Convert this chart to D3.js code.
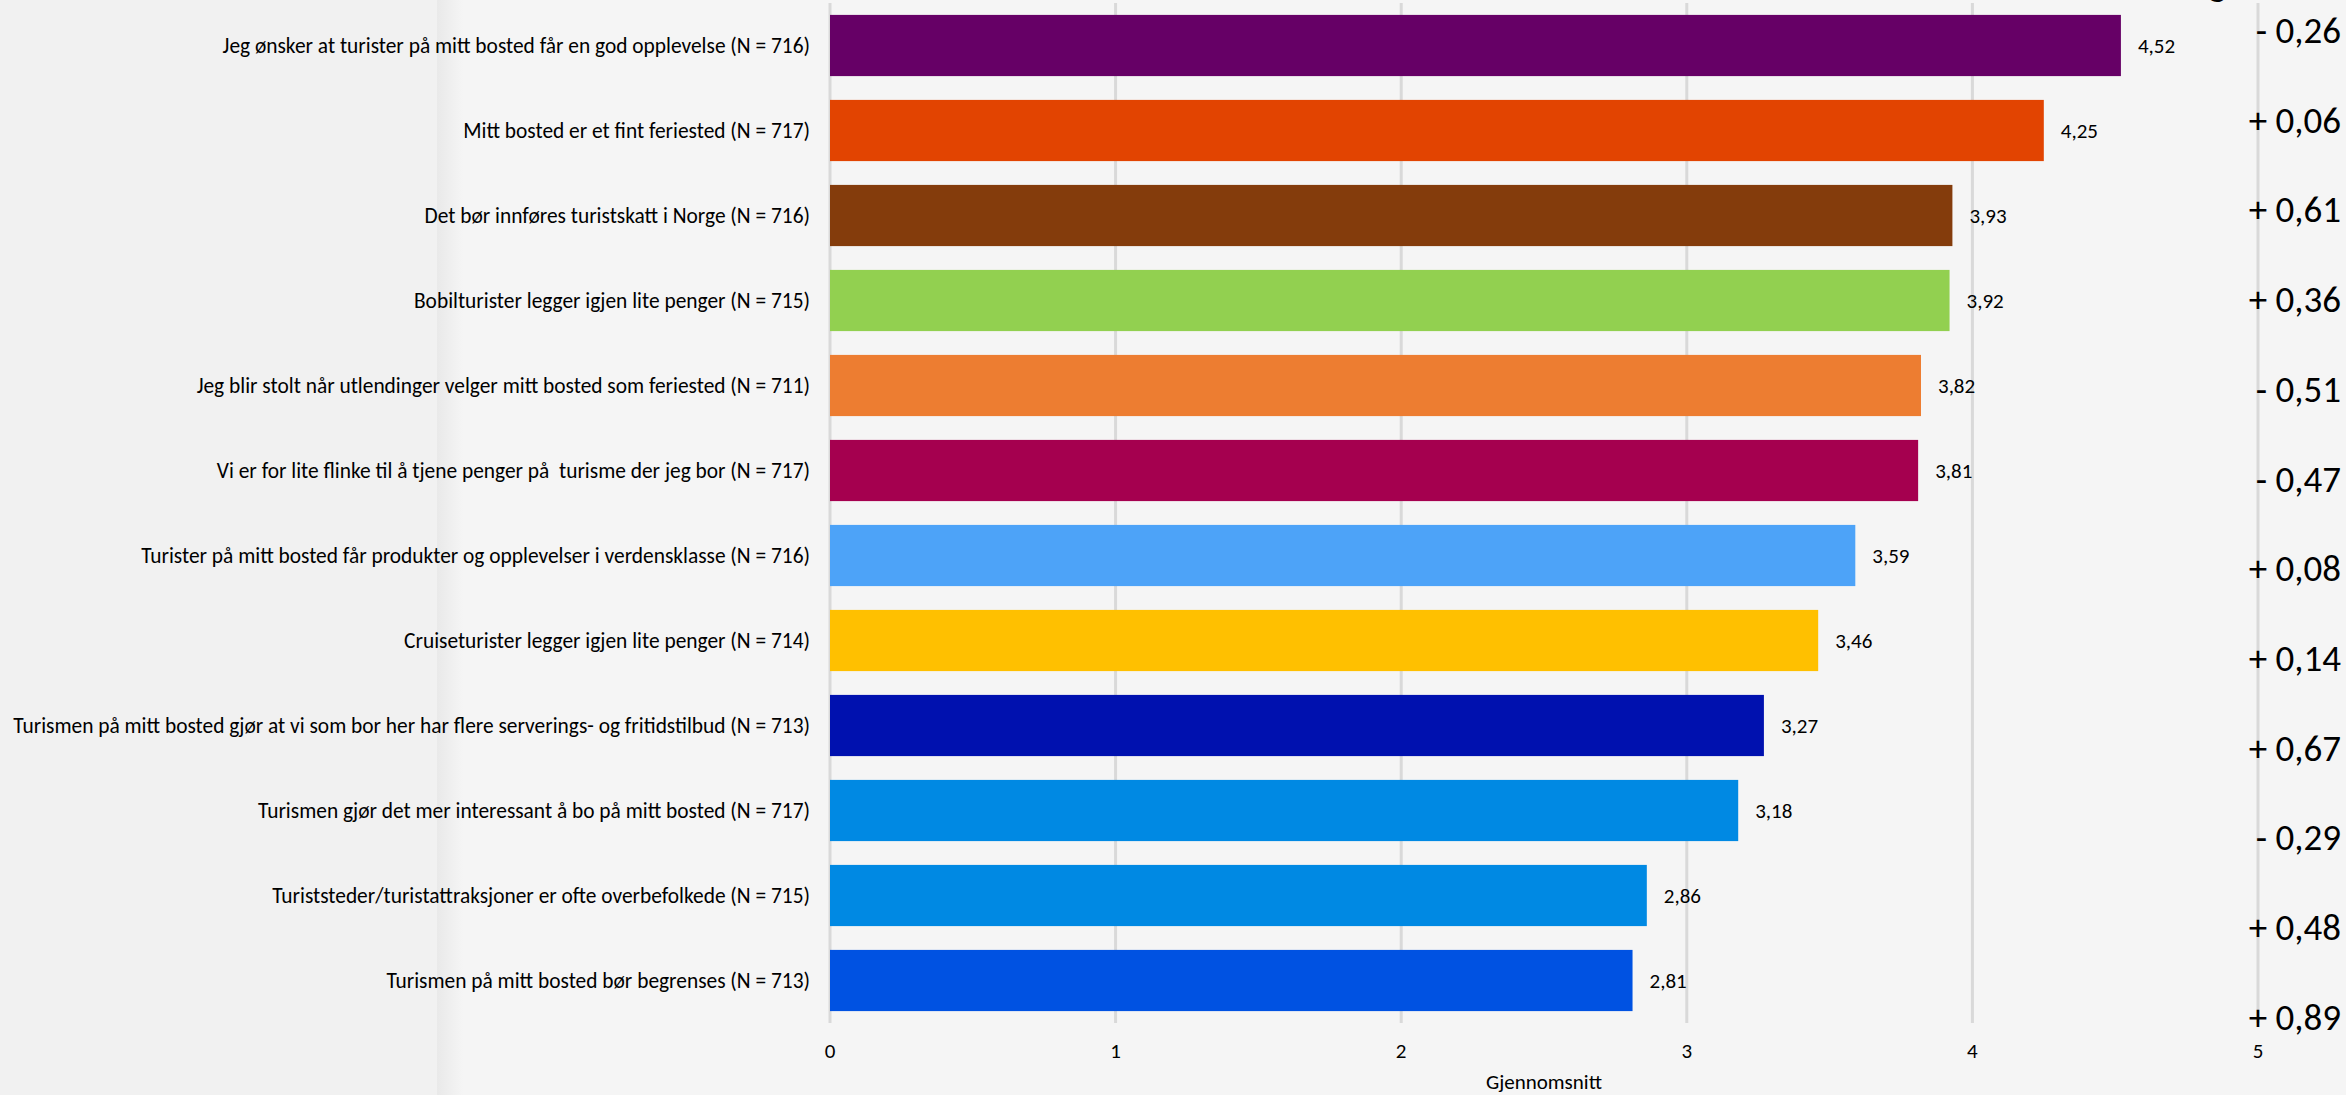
<!DOCTYPE html>
<html>
<head>
<meta charset="utf-8">
<script src="https://cdn.jsdelivr.net/npm/d3@7"></script>
<style>
  html, body { margin: 0; padding: 0; background: #f5f5f5; overflow: hidden; }
  svg { display: block; }
  text { font-family: Carlito, Calibri, Lato, "Open Sans", sans-serif; fill: #000; }
</style>
</head>
<body>
<svg id="chart" width="2346" height="1095"></svg>
<script>
const categories = [
  "Jeg ønsker at turister på mitt bosted får en god opplevelse (N = 716)",
  "Mitt bosted er et fint feriested (N = 717)",
  "Det bør innføres turistskatt i Norge (N = 716)",
  "Bobilturister legger igjen lite penger (N = 715)",
  "Jeg blir stolt når utlendinger velger mitt bosted som feriested (N = 711)",
  "Vi er for lite flinke til å tjene penger på  turisme der jeg bor (N = 717)",
  "Turister på mitt bosted får produkter og opplevelser i verdensklasse (N = 716)",
  "Cruiseturister legger igjen lite penger (N = 714)",
  "Turismen på mitt bosted gjør at vi som bor her har flere serverings- og fritidstilbud (N = 713)",
  "Turismen gjør det mer interessant å bo på mitt bosted (N = 717)",
  "Turiststeder/turistattraksjoner er ofte overbefolkede (N = 715)",
  "Turismen på mitt bosted bør begrenses (N = 713)"
];
const values = [4.52, 4.25, 3.93, 3.92, 3.82, 3.81, 3.59, 3.46, 3.27, 3.18, 2.86, 2.81];
const valueLabels = ["4,52", "4,25", "3,93", "3,92", "3,82", "3,81", "3,59", "3,46", "3,27", "3,18", "2,86", "2,81"];
const changes = ["- 0,26", "+ 0,06", "+ 0,61", "+ 0,36", "- 0,51", "- 0,47", "+ 0,08", "+ 0,14", "+ 0,67", "- 0,29", "+ 0,48", "+ 0,89"];
const colors = ["#660066", "#E24401", "#843C0C", "#92D050", "#ED7D31", "#A5004F",
                "#4DA3F8", "#FFC000", "#0011AF", "#0089E3", "#0089E3", "#0052E2"];
const xTicks = [0, 1, 2, 3, 4, 5];
const xTitle = "Gjennomsnitt";
const changeTitle = "Endring";

const svg = d3.select("#chart");
const W = 2346, H = 1095;

// background panels
const defs = svg.append("defs");
const grad = defs.append("linearGradient").attr("id", "shade").attr("x1", "0").attr("x2", "1");
grad.append("stop").attr("offset", "0").attr("stop-color", "#e9e9e9");
grad.append("stop").attr("offset", "1").attr("stop-color", "#f5f5f5");
svg.append("rect").attr("x", 0).attr("y", 0).attr("width", W).attr("height", H).attr("fill", "#f5f5f5");
svg.append("rect").attr("x", 0).attr("y", 0).attr("width", 437).attr("height", H).attr("fill", "#f1f1f1");
svg.append("rect").attr("x", 437).attr("y", 0).attr("width", 26).attr("height", H).attr("fill", "url(#shade)");

const x = d3.scaleLinear().domain([0, 5]).range([830, 2258]);
const y = d3.scaleBand().domain(categories).range([3, 1023]).paddingInner(0.28).paddingOuter(0.14);

// gridlines
svg.append("g").selectAll("line").data(xTicks).join("line")
  .attr("x1", d => x(d)).attr("x2", d => x(d))
  .attr("y1", 3).attr("y2", 1023)
  .attr("stroke", "#d9d9d9").attr("stroke-width", 3);

// bars
svg.append("g").selectAll("rect").data(values).join("rect")
  .attr("x", x(0))
  .attr("y", (d, i) => y(categories[i]))
  .attr("width", d => x(d) - x(0))
  .attr("height", y.bandwidth())
  .attr("fill", (d, i) => colors[i]);

// value labels
svg.append("g").selectAll("text").data(values).join("text")
  .attr("x", d => x(d) + 17)
  .attr("y", (d, i) => y(categories[i]) + y.bandwidth() / 2)
  .attr("dy", "0.35em")
  .attr("font-size", 21)
  .text((d, i) => valueLabels[i]);

// category labels
svg.append("g").selectAll("text").data(categories).join("text")
  .attr("x", 810)
  .attr("y", d => y(d) + y.bandwidth() / 2)
  .attr("dy", "0.35em")
  .attr("text-anchor", "end")
  .attr("font-size", 21.4)
  .style("white-space", "pre")
  .text(d => d);

// x tick labels
svg.append("g").selectAll("text").data(xTicks).join("text")
  .attr("x", d => x(d))
  .attr("y", 1051)
  .attr("dy", "0.35em")
  .attr("text-anchor", "middle")
  .attr("font-size", 21)
  .text(d => d);

svg.append("text")
  .attr("x", (x(0) + x(5)) / 2)
  .attr("y", 1082)
  .attr("dy", "0.35em")
  .attr("text-anchor", "middle")
  .attr("font-size", 21)
  .text(xTitle);

// change column
const cy = d3.scaleLinear().domain([0, changes.length - 1]).range([30, 1017]);
svg.append("g").selectAll("text").data(changes).join("text")
  .attr("x", 2341)
  .attr("y", (d, i) => cy(i))
  .attr("dy", "0.35em")
  .attr("text-anchor", "end")
  .attr("font-size", 37)
  .text(d => d);

svg.append("text")
  .attr("x", 2226)
  .attr("y", -4)
  .attr("text-anchor", "end")
  .attr("font-size", 36)
  .attr("font-weight", "bold")
  .text(changeTitle);
</script>
</body>
</html>
